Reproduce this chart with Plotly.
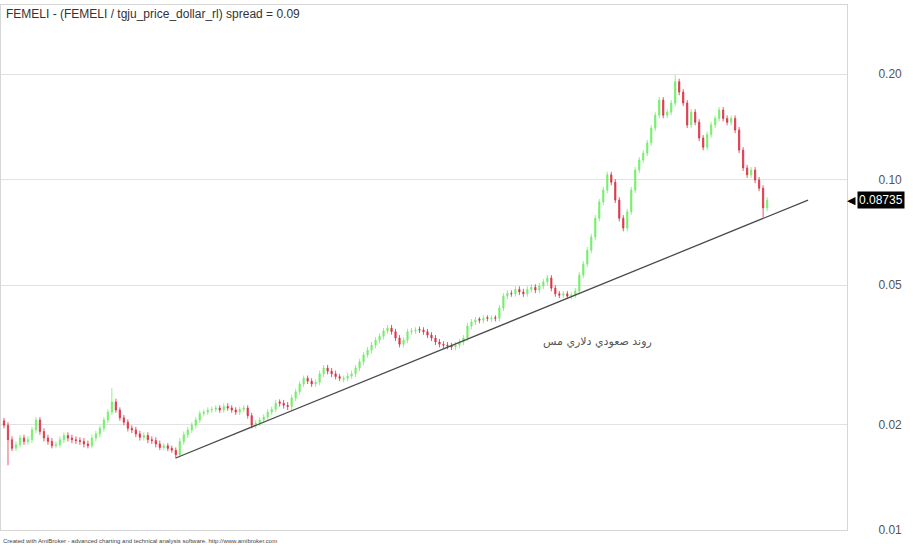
import math
import plotly.graph_objects as go

# daily bars (FEMELI / dollar ratio)
open_ = [
    0.0205, 0.0199, 0.0181, 0.0171, 0.0175, 0.0183, 0.0179, 0.0181, 0.0193, 0.0206,
    0.0191, 0.0183, 0.0179, 0.0174, 0.0175, 0.0181, 0.0186, 0.0183, 0.0181, 0.0180,
    0.0179, 0.0176, 0.0174, 0.0183, 0.0188, 0.0195, 0.0206, 0.0217, 0.0232, 0.0220,
    0.0209, 0.0203, 0.0195, 0.0193, 0.0188, 0.0184, 0.0186, 0.0181, 0.0180, 0.0176,
    0.0172, 0.0174, 0.0171, 0.0169, 0.0164, 0.0179, 0.0187, 0.0193, 0.0199, 0.0206,
    0.0215, 0.0217, 0.0220, 0.0221, 0.0223, 0.0220, 0.0225, 0.0223, 0.0220, 0.0217,
    0.0221, 0.0223, 0.0212, 0.0199, 0.0202, 0.0206, 0.0210, 0.0217, 0.0221, 0.0232,
    0.0230, 0.0227, 0.0225, 0.0238, 0.0248, 0.0261, 0.0271, 0.0266, 0.0261, 0.0264,
    0.0279, 0.0290, 0.0284, 0.0279, 0.0274, 0.0269, 0.0271, 0.0275, 0.0279, 0.0290,
    0.0302, 0.0316, 0.0326, 0.0337, 0.0348, 0.0357, 0.0370, 0.0377, 0.0368, 0.0353,
    0.0339, 0.0348, 0.0368, 0.0370, 0.0374, 0.0372, 0.0368, 0.0360, 0.0353, 0.0344,
    0.0339, 0.0337, 0.0335, 0.0333, 0.0337, 0.0344, 0.0353, 0.0382, 0.0392, 0.0400,
    0.0397, 0.0404, 0.0400, 0.0404, 0.0402, 0.0430, 0.0465, 0.0474, 0.0472, 0.0486,
    0.0478, 0.0472, 0.0486, 0.0493, 0.0484, 0.0497, 0.0510, 0.0524, 0.0490, 0.0472,
    0.0468, 0.0472, 0.0465, 0.0468, 0.0481, 0.0534, 0.0574, 0.0629, 0.0686, 0.0776,
    0.0863, 0.0934, 0.1032, 0.0983, 0.0874, 0.0776, 0.0727, 0.0809, 0.0934, 0.1065,
    0.1137, 0.1190, 0.1273, 0.1403, 0.1527, 0.1686, 0.1527, 0.1558, 0.1653, 0.1903,
    0.1777, 0.1654, 0.1432, 0.1558, 0.1458, 0.1314, 0.1237, 0.1344, 0.1432, 0.1495,
    0.1579, 0.1495, 0.1458, 0.1495, 0.1385, 0.1214, 0.1080, 0.1032, 0.1065, 0.0997,
    0.0945, 0.0830,
]
high = [
    0.0209, 0.0203, 0.0185, 0.0179, 0.0187, 0.0187, 0.0185, 0.0197, 0.0210, 0.0210,
    0.0195, 0.0187, 0.0183, 0.0179, 0.0185, 0.0190, 0.0190, 0.0187, 0.0185, 0.0184,
    0.0183, 0.0180, 0.0187, 0.0192, 0.0199, 0.0210, 0.0221, 0.0254, 0.0237, 0.0224,
    0.0213, 0.0207, 0.0199, 0.0197, 0.0192, 0.0190, 0.0190, 0.0185, 0.0184, 0.0180,
    0.0177, 0.0177, 0.0174, 0.0172, 0.0183, 0.0191, 0.0197, 0.0203, 0.0210, 0.0219,
    0.0221, 0.0224, 0.0225, 0.0227, 0.0227, 0.0230, 0.0230, 0.0227, 0.0224, 0.0225,
    0.0227, 0.0227, 0.0216, 0.0206, 0.0210, 0.0214, 0.0221, 0.0225, 0.0235, 0.0236,
    0.0235, 0.0232, 0.0243, 0.0253, 0.0266, 0.0276, 0.0276, 0.0271, 0.0269, 0.0285,
    0.0296, 0.0296, 0.0290, 0.0285, 0.0279, 0.0276, 0.0281, 0.0285, 0.0296, 0.0308,
    0.0322, 0.0333, 0.0344, 0.0355, 0.0364, 0.0377, 0.0385, 0.0385, 0.0375, 0.0360,
    0.0355, 0.0375, 0.0377, 0.0379, 0.0381, 0.0379, 0.0375, 0.0367, 0.0360, 0.0351,
    0.0346, 0.0344, 0.0342, 0.0344, 0.0351, 0.0360, 0.0390, 0.0400, 0.0405, 0.0405,
    0.0410, 0.0410, 0.0410, 0.0410, 0.0439, 0.0474, 0.0483, 0.0483, 0.0496, 0.0496,
    0.0488, 0.0496, 0.0503, 0.0503, 0.0507, 0.0520, 0.0534, 0.0534, 0.0500, 0.0481,
    0.0481, 0.0481, 0.0477, 0.0491, 0.0545, 0.0585, 0.0642, 0.0700, 0.0792, 0.0880,
    0.0953, 0.1053, 0.1053, 0.1003, 0.0891, 0.0792, 0.0825, 0.0953, 0.1086, 0.1160,
    0.1214, 0.1298, 0.1431, 0.1558, 0.1720, 0.1720, 0.1589, 0.1686, 0.1987, 0.1941,
    0.1813, 0.1687, 0.1589, 0.1589, 0.1487, 0.1340, 0.1371, 0.1461, 0.1525, 0.1611,
    0.1611, 0.1525, 0.1525, 0.1525, 0.1413, 0.1238, 0.1102, 0.1086, 0.1086, 0.1017,
    0.0964, 0.0891,
]
low = [
    0.0195, 0.0153, 0.0168, 0.0168, 0.0172, 0.0175, 0.0175, 0.0177, 0.0189, 0.0187,
    0.0179, 0.0175, 0.0171, 0.0171, 0.0172, 0.0177, 0.0179, 0.0177, 0.0176, 0.0175,
    0.0172, 0.0171, 0.0171, 0.0179, 0.0184, 0.0191, 0.0202, 0.0213, 0.0216, 0.0205,
    0.0199, 0.0191, 0.0189, 0.0184, 0.0180, 0.0180, 0.0177, 0.0176, 0.0172, 0.0169,
    0.0169, 0.0168, 0.0166, 0.0160, 0.0161, 0.0175, 0.0183, 0.0189, 0.0195, 0.0202,
    0.0211, 0.0213, 0.0216, 0.0217, 0.0216, 0.0216, 0.0219, 0.0216, 0.0213, 0.0213,
    0.0217, 0.0208, 0.0195, 0.0195, 0.0198, 0.0202, 0.0206, 0.0213, 0.0217, 0.0225,
    0.0222, 0.0220, 0.0220, 0.0233, 0.0243, 0.0256, 0.0261, 0.0256, 0.0256, 0.0259,
    0.0273, 0.0278, 0.0273, 0.0269, 0.0266, 0.0264, 0.0266, 0.0270, 0.0273, 0.0284,
    0.0296, 0.0310, 0.0319, 0.0330, 0.0341, 0.0350, 0.0363, 0.0361, 0.0346, 0.0332,
    0.0332, 0.0341, 0.0361, 0.0363, 0.0365, 0.0361, 0.0353, 0.0346, 0.0337, 0.0332,
    0.0330, 0.0328, 0.0326, 0.0326, 0.0330, 0.0337, 0.0346, 0.0374, 0.0384, 0.0389,
    0.0389, 0.0394, 0.0392, 0.0394, 0.0394, 0.0421, 0.0456, 0.0463, 0.0463, 0.0468,
    0.0463, 0.0463, 0.0476, 0.0474, 0.0474, 0.0487, 0.0500, 0.0480, 0.0463, 0.0459,
    0.0459, 0.0456, 0.0456, 0.0459, 0.0471, 0.0523, 0.0563, 0.0616, 0.0672, 0.0760,
    0.0846, 0.0915, 0.0963, 0.0857, 0.0760, 0.0712, 0.0712, 0.0793, 0.0915, 0.1044,
    0.1114, 0.1166, 0.1248, 0.1375, 0.1496, 0.1496, 0.1496, 0.1527, 0.1620, 0.1741,
    0.1621, 0.1403, 0.1403, 0.1429, 0.1288, 0.1212, 0.1212, 0.1317, 0.1403, 0.1465,
    0.1465, 0.1429, 0.1429, 0.1357, 0.1190, 0.1058, 0.1011, 0.1011, 0.0977, 0.0926,
    0.0780, 0.0813,
]
close = [
    0.0199, 0.0181, 0.0171, 0.0175, 0.0183, 0.0179, 0.0181, 0.0193, 0.0206, 0.0191,
    0.0183, 0.0179, 0.0174, 0.0175, 0.0181, 0.0186, 0.0183, 0.0181, 0.0180, 0.0179,
    0.0176, 0.0174, 0.0183, 0.0188, 0.0195, 0.0206, 0.0217, 0.0232, 0.0220, 0.0209,
    0.0203, 0.0195, 0.0193, 0.0188, 0.0184, 0.0186, 0.0181, 0.0180, 0.0176, 0.0172,
    0.0174, 0.0171, 0.0169, 0.0164, 0.0179, 0.0187, 0.0193, 0.0199, 0.0206, 0.0215,
    0.0217, 0.0220, 0.0221, 0.0223, 0.0220, 0.0225, 0.0223, 0.0220, 0.0217, 0.0221,
    0.0223, 0.0212, 0.0199, 0.0202, 0.0206, 0.0210, 0.0217, 0.0221, 0.0230, 0.0230,
    0.0227, 0.0225, 0.0238, 0.0248, 0.0261, 0.0271, 0.0266, 0.0261, 0.0264, 0.0279,
    0.0290, 0.0284, 0.0279, 0.0274, 0.0271, 0.0271, 0.0275, 0.0279, 0.0290, 0.0302,
    0.0316, 0.0326, 0.0337, 0.0348, 0.0357, 0.0370, 0.0377, 0.0368, 0.0353, 0.0339,
    0.0348, 0.0368, 0.0370, 0.0372, 0.0372, 0.0368, 0.0360, 0.0353, 0.0344, 0.0339,
    0.0337, 0.0335, 0.0333, 0.0337, 0.0344, 0.0353, 0.0382, 0.0392, 0.0397, 0.0397,
    0.0402, 0.0402, 0.0402, 0.0402, 0.0430, 0.0465, 0.0474, 0.0472, 0.0486, 0.0478,
    0.0472, 0.0486, 0.0493, 0.0484, 0.0497, 0.0510, 0.0524, 0.0490, 0.0472, 0.0468,
    0.0472, 0.0465, 0.0468, 0.0481, 0.0534, 0.0574, 0.0629, 0.0686, 0.0776, 0.0863,
    0.0934, 0.1032, 0.0983, 0.0874, 0.0776, 0.0727, 0.0809, 0.0934, 0.1065, 0.1137,
    0.1190, 0.1273, 0.1403, 0.1527, 0.1686, 0.1527, 0.1558, 0.1653, 0.1903, 0.1777,
    0.1654, 0.1432, 0.1558, 0.1458, 0.1314, 0.1237, 0.1344, 0.1432, 0.1495, 0.1579,
    0.1495, 0.1458, 0.1495, 0.1385, 0.1214, 0.1080, 0.1032, 0.1065, 0.0997, 0.0945,
    0.0830, 0.08735,
]
bars = list(range(len(close)))

# hand drawn trend line (bar index, price)
trend_x = [43, 201.25]
trend_y = [0.01605, 0.0874]

tick_vals = [0.01, 0.02, 0.05, 0.10, 0.20]
tick_text = ["0.01", "0.02", "0.05", "0.10", "0.20"]

last_price = 0.08735
note_x, note_y = 148.5, 0.0344
note_text = "روند صعودي دلاري مس"

title_text = "FEMELI - (FEMELI / tgju_price_dollar_rl) spread = 0.09"
footer_text = ("Created with AmiBroker - advanced charting and technical analysis software. "
               "http://www.amibroker.com")

fig = go.Figure()
fig.add_trace(go.Candlestick(
    x=bars, open=open_, high=high, low=low, close=close,
    increasing=dict(line=dict(color="#74ef6a", width=0.8), fillcolor="#74ef6a"),
    decreasing=dict(line=dict(color="#dc3448", width=0.8), fillcolor="#dc3448"),
    whiskerwidth=0, hoverinfo="skip", showlegend=False,
))
fig.add_trace(go.Scatter(
    x=trend_x, y=trend_y, mode="lines",
    line=dict(color="#4a4a4a", width=1.3),
    hoverinfo="skip", showlegend=False,
))

fig.update_layout(
    width=913, height=548,
    margin=dict(l=1, r=66, t=5, b=18),
    paper_bgcolor="white", plot_bgcolor="white",
    font=dict(family="Liberation Sans, Arial", color="#555555"),
    showlegend=False,
    boxgap=0.55,
)
fig.update_xaxes(
    range=[-0.75, 211], showgrid=False, zeroline=False,
    showticklabels=False, ticks="", rangeslider=dict(visible=False),
    showline=True, linecolor="#d6d6d6", linewidth=1, mirror=True,
)
fig.update_yaxes(
    type="log", range=[-2, math.log10(0.315)], side="right",
    tickvals=tick_vals, ticktext=tick_text,
    tickfont=dict(size=12, color="#555555"), ticklabelstandoff=28,
    showgrid=True, gridcolor="#e2e2e2", gridwidth=1, zeroline=False,
    showline=True, linecolor="#d6d6d6", linewidth=1, mirror=True,
)

# title, footer
fig.add_annotation(text=title_text, xref="paper", yref="paper", x=0.003, y=1.0,
                   xanchor="left", yanchor="top", showarrow=False,
                   font=dict(size=12, color="#333333"))
fig.add_annotation(text=footer_text, xref="paper", yref="paper", x=0.0, y=-0.012,
                   xanchor="left", yanchor="top", showarrow=False,
                   font=dict(size=6, color="#444444"))

# text on the trend line
fig.add_annotation(text=note_text, x=note_x, y=math.log10(note_y),
                   showarrow=False, font=dict(size=11, color="#555555", family="DejaVu Sans"))

# last price tag
fig.add_annotation(text=f"{last_price:.5f}", xref="paper", x=1.012, y=math.log10(last_price),
                   xanchor="left", showarrow=False, bgcolor="black", borderpad=1,
                   font=dict(size=12, color="white"))
fig.add_annotation(text="◀", xref="paper", x=1.013, y=math.log10(last_price),
                   xanchor="right", showarrow=False,
                   font=dict(size=11, color="black"))

# drop the browser's default page margin so the figure sits at the corner
fig.write_html("out.html", config={"displayModeBar": False},
               post_script="document.body.style.margin='0';")
